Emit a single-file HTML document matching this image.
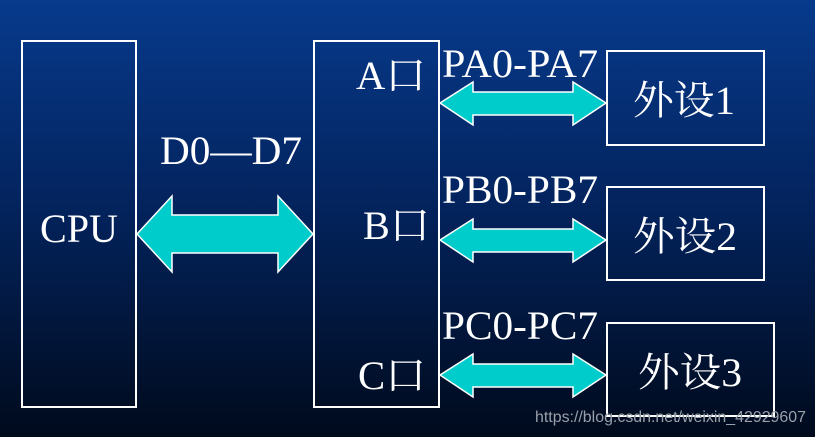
<!DOCTYPE html>
<html><head><meta charset="utf-8"><style>
html,body{margin:0;padding:0}
body{width:815px;height:437px;overflow:hidden;background:linear-gradient(#073a8c 0%,#03225a 50%,#000a1c 100%);font-family:"Liberation Serif","Noto Serif CJK SC",serif}
</style></head><body>
<svg width="815" height="437" xmlns="http://www.w3.org/2000/svg" style="position:absolute;left:0;top:0">
<g fill="none" stroke="#fff" stroke-width="2">
<rect x="22" y="41" width="114" height="366"/>
<rect x="314" y="41" width="125" height="366"/>
<rect x="607" y="51" width="157" height="94"/>
<rect x="607" y="187" width="157" height="93"/>
<rect x="607" y="323" width="167" height="93"/>
</g>
<g fill="#00cccc" stroke="#fff" stroke-width="1.5">
<polygon points="137,234 172,196 172,215 278,215 278,196 313,234 278,272 278,253 172,253 172,272"/>
<polygon points="440,103 473,82 473,92 573,92 573,82 606,103 573,125 573,115 473,115 473,125"/>
<polygon points="440,240 473,219 473,229 573,229 573,219 606,240 573,262 573,252 473,252 473,262"/>
<polygon points="440,375 473,354 473,364 573,364 573,354 606,375 573,397 573,387 473,387 473,397"/>
</g>
<g fill="#fff" font-family="Liberation Serif, Noto Serif CJK SC, serif" font-size="40">
<text x="40" y="242" textLength="78" lengthAdjust="spacingAndGlyphs">CPU</text>
<text x="160" y="164" textLength="142" lengthAdjust="spacingAndGlyphs">D0—D7</text>
<text x="356" y="89" textLength="70" lengthAdjust="spacingAndGlyphs">A口</text>
<text x="363" y="239" textLength="67" lengthAdjust="spacingAndGlyphs">B口</text>
<text x="358" y="389" textLength="68" lengthAdjust="spacingAndGlyphs">C口</text>
<text x="442" y="77" textLength="156" lengthAdjust="spacingAndGlyphs">PA0-PA7</text>
<text x="442" y="203" textLength="156" lengthAdjust="spacingAndGlyphs">PB0-PB7</text>
<text x="442" y="339" textLength="156" lengthAdjust="spacingAndGlyphs">PC0-PC7</text>
<text x="633" y="114" textLength="102" lengthAdjust="spacingAndGlyphs">外设1</text>
<text x="633" y="250" textLength="104" lengthAdjust="spacingAndGlyphs">外设2</text>
<text x="638" y="386" textLength="104" lengthAdjust="spacingAndGlyphs">外设3</text>
</g>
<text x="806" y="422" text-anchor="end" fill="#9aa0aa" font-family="Liberation Sans, sans-serif" font-size="16" textLength="271" lengthAdjust="spacingAndGlyphs">https://blog.csdn.net/weixin_42929607</text>
</svg>
</body></html>
